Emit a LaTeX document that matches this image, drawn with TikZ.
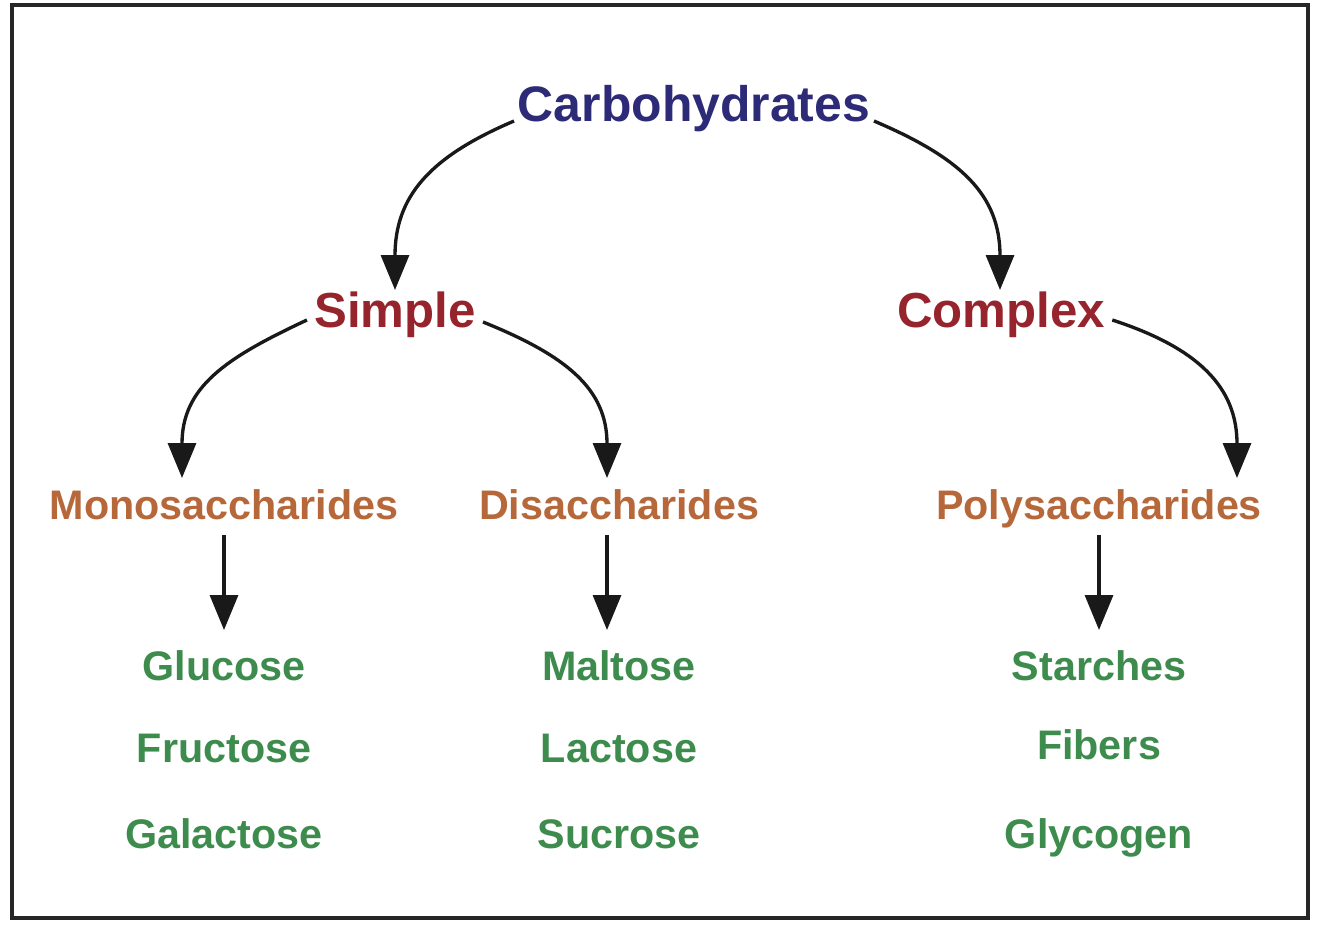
\documentclass[tikz,border=0pt]{standalone}
\usepackage{fontspec}
\setmainfont{Liberation Sans}
\usepackage{xcolor}
\usepackage{tikz}
\usetikzlibrary{arrows.meta}
\usetikzlibrary{calc}
\definecolor{carbBlue}{RGB}{45,43,120}
\definecolor{kindRed}{RGB}{150,36,44}
\definecolor{groupBrown}{RGB}{183,104,58}
\definecolor{sugarGreen}{RGB}{61,140,78}

\begin{document}
\begin{tikzpicture}[x=0.02cm,y=0.02cm,
	lvlone/.style={font=\fontsize{28.4}{30}\selectfont\bfseries,text=carbBlue,anchor=base,inner xsep=2pt,inner ysep=0pt},
	lvltwo/.style={font=\fontsize{28}{30}\selectfont\bfseries,text=kindRed,anchor=base,inner xsep=4pt,inner ysep=0pt},
	lvlthree/.style={font=\fontsize{23.5}{26}\selectfont\bfseries,text=groupBrown,anchor=base,inner sep=0pt},
	sugar/.style={font=\fontsize{23.5}{26}\selectfont\bfseries,text=sugarGreen,anchor=base,inner sep=0pt},
	arr/.style={-{Triangle[length=0.7cm,width=0.56cm]},line width=1.9pt,black!90,looseness=1.15}]
	\useasboundingbox (0,0) rectangle (1324,-930);
	\draw[line width=1.8pt,black!85] (12,-5) rectangle (1308,-918);

	% Top and second level
	\node[lvlone] (carb) at (694,-121) {Carbohydrates};
	\node[lvltwo] (simple) at (395,-327) {Simple};
	\node[lvltwo] (complex) at (1001,-327) {Complex};

	% Third level
	\node[lvlthree] (mono) at (224,-519) {Monosaccharides};
	\node[lvlthree] (di) at (619,-519) {Disaccharides};
	\node[lvlthree] (poly) at (1099,-519) {Polysaccharides};

	% Sugar lists
	\foreach \sname/\yy [count=\i] in {Glucose/680,Fructose/762,Galactose/848} {
		\node[sugar] (mono\i) at (224,-\yy) {\sname};
	}
	\foreach \sname/\yy [count=\i] in {Maltose/680,Lactose/762,Sucrose/848} {
		\node[sugar] (di\i) at (619,-\yy) {\sname};
	}
	\foreach \sname/\yy [count=\i] in {Starches/680,Fibers/759,Glycogen/848} {
		\node[sugar] (poly\i) at (1099,-\yy) {\sname};
	}

	% Curved arrows
	\draw[arr] (carb.base west) to[out=203,in=90] ($(simple.base)+(0,37)$);
	\draw[arr] (carb.base east) to[out=-23,in=90] ($(complex.base)+(-1,37)$);
	\draw[arr] ($(simple.base west)+(0,7)$) to[out=205,in=90] ($(mono.base)+(-42,41)$);
	\draw[arr] ($(simple.base east)+(0,5)$) to[out=-22,in=90] ($(di.base)+(-12,41)$);
	\draw[arr] ($(complex.base east)+(0,7)$) to[out=-18,in=90] ($(poly.base)+(138,41)$);

	% Straight arrows
	\draw[arr] ($(mono.base)+(0,-16)$) -- ($(mono1.base)+(0,50)$);
	\draw[arr] ($(di.base)+(-12,-16)$) -- ($(di1.base)+(-12,50)$);
	\draw[arr] ($(poly.base)+(0,-16)$) -- ($(poly1.base)+(0,50)$);
\end{tikzpicture}
\end{document}
